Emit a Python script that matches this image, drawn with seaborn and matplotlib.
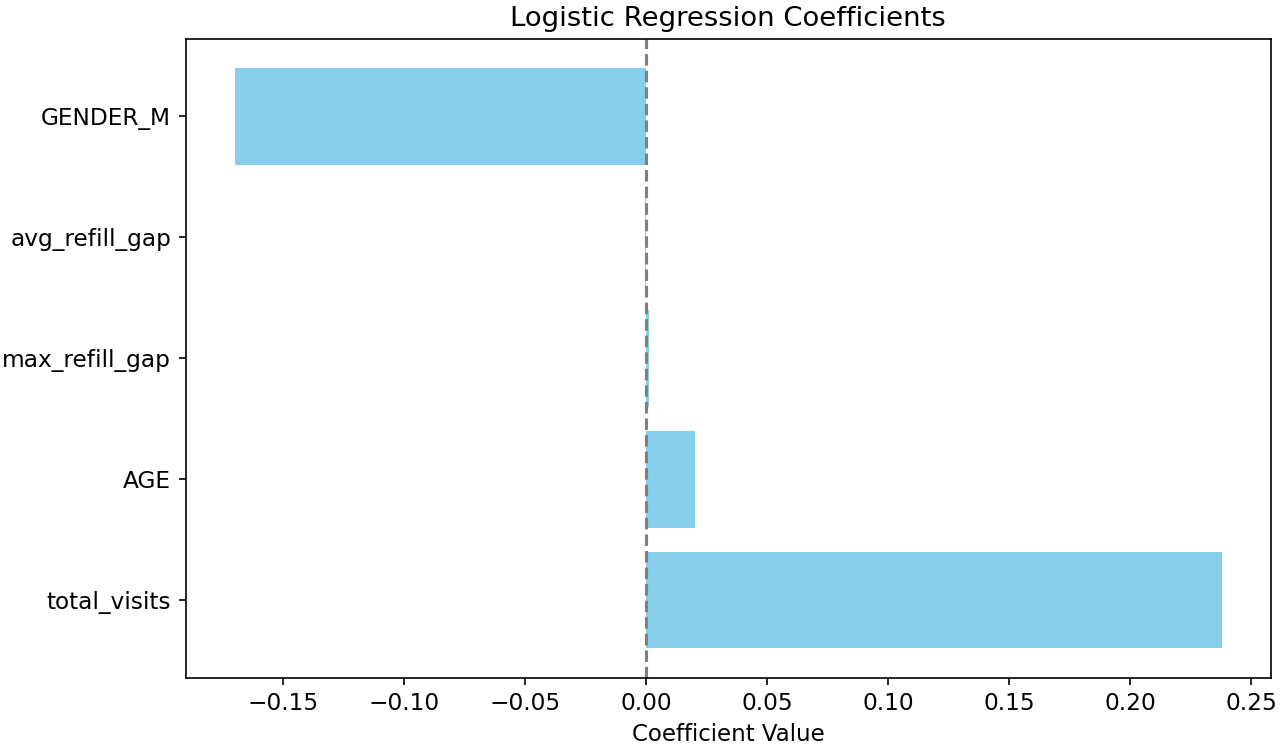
import matplotlib
matplotlib.use("Agg")
import matplotlib.pyplot as plt
import seaborn as sns
import pandas as pd

features = ["GENDER_M", "avg_refill_gap", "max_refill_gap", "AGE", "total_visits"]
coefficients = [-0.170, -0.0004, 0.0012, 0.0203, 0.2378]

df = pd.DataFrame({"Feature": features, "Coefficient": coefficients})

DPI = 150
plt.rcParams["font.size"] = 11
fig = plt.figure(figsize=(1280 / DPI, 745 / DPI), dpi=DPI)
ax = fig.add_axes([185.7 / 1280, 1 - 677.5 / 745, (1271 - 185.7) / 1280, (677.5 - 39) / 745])

sns.barplot(data=df, x="Coefficient", y="Feature", order=features, orient="h",
            color="skyblue", saturation=1, width=0.8, ax=ax)
ax.axvline(0, color="gray", linestyle="--")

ax.set_ylim(4.64, -0.64)
span = max(coefficients) - min(coefficients)
ax.set_xlim(min(coefficients) - 0.05 * span, max(coefficients) + 0.05 * span)
ax.set_xticks([-0.15, -0.10, -0.05, 0.00, 0.05, 0.10, 0.15, 0.20, 0.25])
ax.tick_params(labelsize=11.2)
ax.set_title("Logistic Regression Coefficients", fontsize=13.2)
ax.set_xlabel("Coefficient Value", fontsize=11)
ax.set_ylabel("")

fig.savefig("out.png", dpi=DPI)
